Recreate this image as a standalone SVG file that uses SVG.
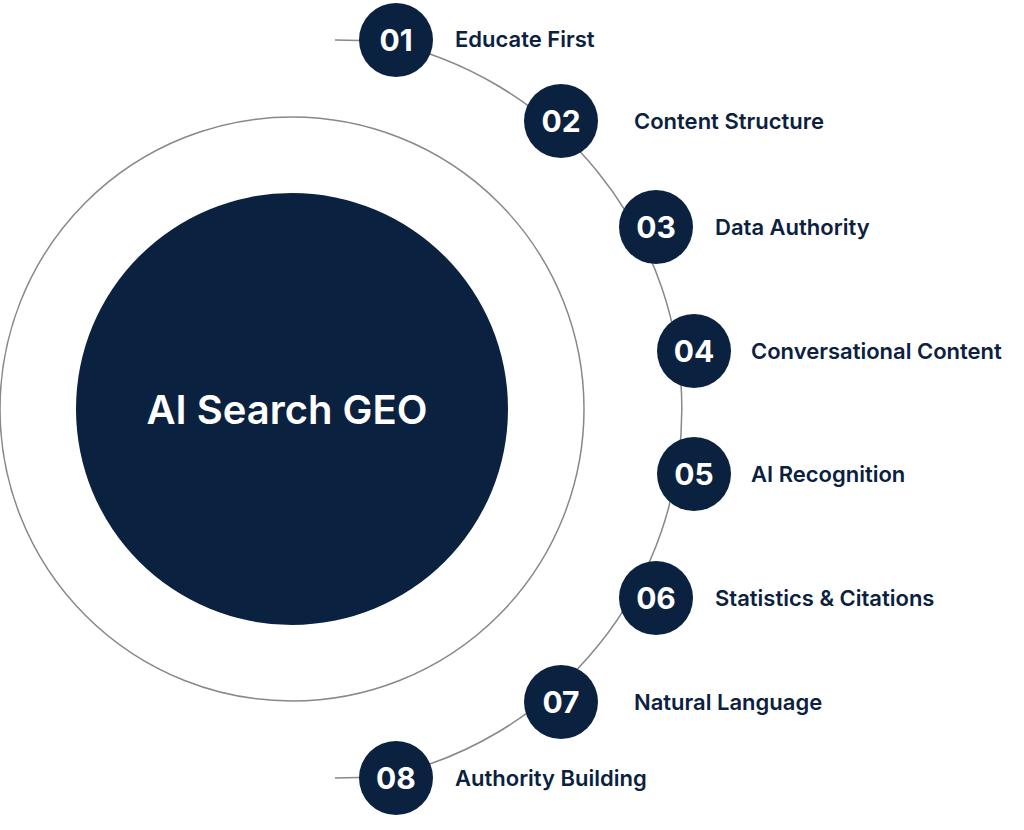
<svg xmlns="http://www.w3.org/2000/svg" width="1024" height="830" viewBox="0 0 1024 830">
<style>
.n{fill:#0b2140}
.num{fill:#fff;font-family:"Inter","Liberation Sans",sans-serif;font-weight:700;font-size:30px;text-anchor:middle;dominant-baseline:central}
.lbl{fill:#0b2140;font-family:"Inter","Liberation Sans",sans-serif;font-weight:600;font-size:22px;dominant-baseline:central}
.ln{fill:none;stroke:#888;stroke-width:1.5}
</style>
<rect width="1024" height="830" fill="#fff"/>
<g id="connectors">
<circle class="ln" cx="292" cy="409" r="292"/>
<path class="ln" d="M335,40 L383,41 A376,376 0 0 1 383,777 L335,778"/>
</g>
<g id="center"><circle class="n" cx="292" cy="409" r="216"/>
<text x="287" y="409" fill="#fff" font-family="Inter,'Liberation Sans',sans-serif" font-weight="600" font-size="40" text-anchor="middle" dominant-baseline="central">AI Search GEO</text></g>
<g id="n1"><circle class="n" cx="396" cy="40" r="37"/><text class="num" x="396" y="40">01</text><text class="lbl" x="455" y="39">Educate First</text></g>
<g id="n2"><circle class="n" cx="561" cy="121" r="37"/><text class="num" x="561" y="121">02</text><text class="lbl" x="634" y="121">Content Structure</text></g>
<g id="n3"><circle class="n" cx="656" cy="227" r="37"/><text class="num" x="656" y="227">03</text><text class="lbl" x="715" y="227">Data Authority</text></g>
<g id="n4"><circle class="n" cx="694" cy="351" r="37"/><text class="num" x="694" y="351">04</text><text class="lbl" x="751" y="351">Conversational Content</text></g>
<g id="n5"><circle class="n" cx="694" cy="474" r="37"/><text class="num" x="694" y="474">05</text><text class="lbl" x="751" y="474">AI Recognition</text></g>
<g id="n6"><circle class="n" cx="656" cy="598" r="37"/><text class="num" x="656" y="598">06</text><text class="lbl" x="715" y="598">Statistics &amp; Citations</text></g>
<g id="n7"><circle class="n" cx="561" cy="702" r="37"/><text class="num" x="561" y="702">07</text><text class="lbl" x="634" y="702">Natural Language</text></g>
<g id="n8"><circle class="n" cx="396" cy="778" r="37"/><text class="num" x="396" y="778">08</text><text class="lbl" x="455" y="778">Authority Building</text></g>
</svg>
